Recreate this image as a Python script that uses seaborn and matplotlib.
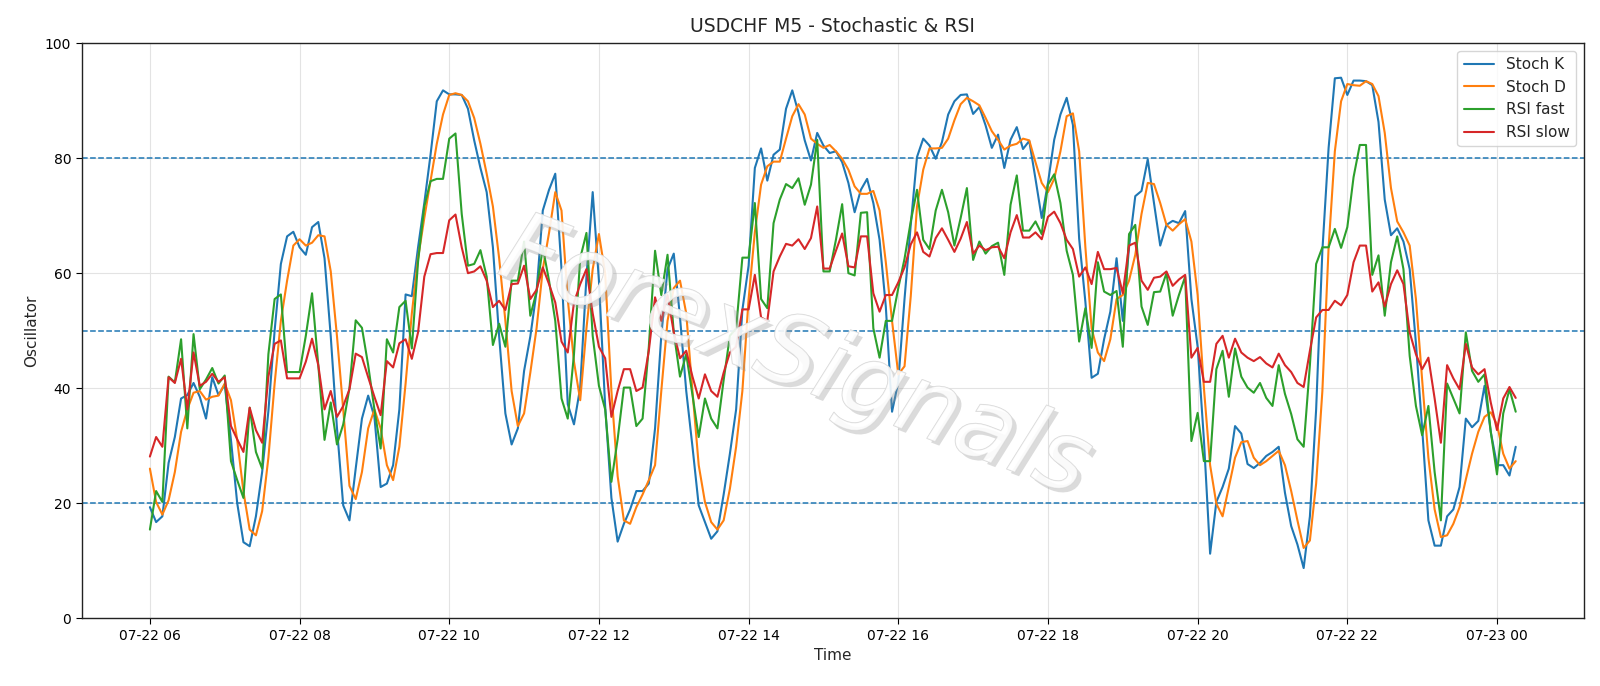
import numpy as np
import pandas as pd
import matplotlib
matplotlib.use("Agg")
import matplotlib.pyplot as plt
import matplotlib.dates as mdates
import matplotlib.patheffects as pe
import seaborn as sns

start_time = "2025-07-22 06:00"
n_bars = 220
labels = ["Stoch K", "Stoch D", "RSI fast", "RSI slow"]

stoch_k = [
    19.3, 16.7, 17.7, 27, 31.5, 38.2, 38.8, 40.9, 38.5, 34.7, 41.9, 38.8, 40.6, 31, 20, 13.2, 12.5, 17.7, 25.4, 36,
    50, 61.6, 66.4, 67.2, 64.5, 63.2, 68, 68.9, 62.6, 49, 33, 19.6, 17, 26, 34.7, 38.7, 35, 22.8, 23.4, 26.6,
    36.3, 56.3, 56, 64.5, 72.2, 80.6, 89.9, 91.8, 91.1, 91.1, 91, 88.6, 83.1, 78.3, 74.1, 64.5, 49, 35.6, 30.2, 33,
    43, 49, 56.8, 70.9, 74.5, 77.3, 60.7, 37.2, 33.7, 40.1, 59.4, 74.1, 58.7, 36.9, 20.9, 13.3, 16.4, 18.9, 22.1, 22.1,
    23.4, 33, 49.1, 60.7, 63.4, 52.3, 39.5, 29.8, 19.6, 16.7, 13.8, 15.1, 21.5, 28.6, 36.3, 53.6, 61.3, 78.3, 81.7, 76.1,
    80.6, 81.5, 88.6, 91.8, 87.9, 83.1, 79.6, 84.4, 82.2, 80.9, 81.2, 79.3, 75.7, 70.6, 74.5, 76.4, 72.2, 65.8, 54.2, 35.9,
    41.1, 55.5, 68.4, 80.2, 83.4, 82.2, 79.9, 82.8, 87.6, 89.9, 91, 91.1, 87.7, 88.9, 85.7, 81.8, 84.1, 78.3, 83.2, 85.4,
    81.6, 83, 76.4, 69.6, 75.7, 83.2, 87.6, 90.5, 85.8, 66, 55, 41.8, 42.5, 48.5, 53.3, 62.6, 51.7, 64.5, 73.4, 74.3,
    79.8, 72.2, 64.8, 68.4, 69.1, 68.7, 70.8, 55.5, 47.2, 31.1, 11.2, 20.2, 22.8, 26, 33.4, 32.1, 26.8, 26.1, 27, 28.2,
    28.9, 29.8, 21.8, 16, 12.8, 8.7, 17.7, 36.3, 63.9, 81.8, 93.9, 94, 91, 93.5, 93.5, 93.4, 92.7, 86.3, 72.8, 66.6,
    67.8, 65.5, 60.7, 47.8, 33, 17, 12.6, 12.6, 17.7, 18.9, 22.8, 34.7, 33.2, 34.3, 40.4, 32.4, 26.6, 26.6, 24.8, 29.8,
]

stoch_d = [
    26, 20.2, 18, 20.5, 25.4, 32.4, 36.3, 39.2, 39.5, 38, 38.5, 38.7, 40.8, 37.9, 31, 22, 15.4, 14.4, 18.6, 27.9,
    40.8, 51.7, 58.7, 64.8, 65.9, 64.8, 65.3, 66.6, 66.4, 60.3, 49, 36.3, 23, 20.7, 25.4, 33, 36.3, 33, 26.6, 24,
    29.8, 40.8, 53, 62.6, 69.6, 76, 82.5, 87.6, 91, 91.3, 91, 89.9, 87, 82.5, 77.3, 71.6, 62.6, 51.7, 39.5, 33.4,
    35.6, 42.7, 50.4, 60.7, 67, 74.1, 70.9, 55.5, 44.6, 37.9, 50.4, 60.7, 66.8, 60, 39.5, 24.7, 17, 16.4, 19.3, 21.5,
    24, 26.6, 39.5, 51.7, 57.4, 58.7, 53, 39.5, 26.6, 20.2, 16.7, 15.4, 17, 22.5, 29.8, 39.5, 55.5, 67.1, 75.4, 78.6,
    79.4, 79.4, 83.4, 87.3, 89.4, 87.6, 83.4, 82.5, 81.8, 82.3, 81.2, 79.9, 78, 75.1, 73.8, 73.8, 74.3, 70.9, 61.9, 51.7,
    42.4, 43.8, 56, 71.6, 78, 81.7, 81.7, 81.8, 83.4, 86.6, 89.4, 90.5, 89.9, 89.2, 87, 84.7, 83.2, 81.5, 82.2, 82.5,
    83.4, 83.1, 79.3, 75.7, 74.1, 76.4, 81.2, 87.3, 87.8, 81.2, 64.5, 50.4, 46.2, 44.7, 48.5, 55.5, 56.2, 58.7, 63.2, 70.3,
    75.7, 75.5, 72.2, 68.4, 67.4, 68.5, 69.4, 65.5, 56.2, 40.1, 26.6, 19.9, 17.7, 22.8, 27.9, 30.6, 30.8, 27.9, 26.6, 27.3,
    28.2, 29.1, 26.6, 22.1, 17, 12.2, 13.5, 23.4, 39.5, 64.5, 81.2, 89.9, 92.9, 92.7, 92.6, 93.4, 92.9, 90.8, 84.4, 74.8,
    69, 67.1, 64.8, 55.5, 41.4, 27.9, 18.9, 14.1, 14.4, 16.4, 19.3, 24.1, 28.6, 32.4, 35, 35.8, 33.7, 28.6, 26, 27.3,
]

rsi_fast = [
    15.4, 22.1, 20.2, 42, 41, 48.5, 33, 49.4, 39.8, 41.5, 43.5, 40.8, 42.2, 27.3, 24, 20.9, 36.6, 28.9, 26, 45.9,
    55.5, 56.3, 42.8, 42.8, 42.8, 49.1, 56.5, 44, 31, 37.5, 30.2, 33.7, 40, 51.8, 50.5, 44, 36.3, 29.5, 48.5, 46.2,
    54.1, 55.2, 46.9, 62, 71.6, 76, 76.4, 76.4, 83.4, 84.3, 70.3, 61.3, 61.6, 64, 59.4, 47.5, 51.2, 47.2, 58.7, 58.7,
    65.5, 52.6, 56.8, 64.5, 58.7, 51.7, 38.2, 34.7, 45.9, 62.6, 67, 49.1, 40.4, 36.3, 23.7, 31.1, 40.1, 40.1, 33.4, 34.7,
    47.2, 63.9, 56.2, 63.2, 49.7, 42, 45.9, 38.8, 31.5, 38.2, 34.7, 33, 41.4, 49.1, 50.4, 62.7, 62.7, 72.2, 55.5, 53.9,
    68.7, 72.8, 75.5, 74.8, 76.5, 71.9, 75.4, 83.2, 60.3, 60.3, 65.8, 72, 60, 59.6, 70.5, 70.6, 50.4, 45.3, 51.7, 51.7,
    57.4, 62.5, 69, 74.5, 65.8, 64.2, 70.9, 74.5, 70.6, 64.8, 69.6, 74.8, 62.3, 65.5, 63.4, 64.7, 65.3, 59.7, 71.9, 77,
    67.4, 67.4, 69, 66.8, 75.4, 77.2, 72.2, 63.9, 59.7, 48.1, 53.9, 47, 61.9, 56.8, 56.2, 56.9, 47.2, 66.8, 68.4, 54.2,
    51, 56.7, 56.8, 60, 52.6, 56.2, 59.4, 30.8, 35.7, 27.3, 27.3, 43.3, 46.5, 38.5, 46.9, 42, 40.1, 39.2, 40.9, 38.3,
    36.9, 44, 39, 35.5, 31.1, 29.8, 44, 61.6, 64.5, 64.5, 67.7, 64.4, 68, 76.7, 82.3, 82.3, 59.7, 63.1, 52.6, 61.9,
    66.4, 60.7, 45.6, 36.9, 31.8, 36.9, 25.4, 17, 40.8, 38.2, 35.6, 49.7, 43, 41.1, 42.4, 32.4, 25, 35.6, 39.8, 35.9,
]

rsi_slow = [
    28.1, 31.5, 29.8, 41.9, 40.9, 45.1, 36.3, 46.2, 40.4, 41.1, 42.5, 41.1, 41.9, 33.4, 31.1, 28.9, 36.6, 32.7, 30.5, 42,
    47.7, 48.3, 41.7, 41.7, 41.7, 44.6, 48.6, 44, 36.3, 39.5, 35, 36.9, 39.8, 46, 45.4, 41.9, 38.5, 35.3, 44.7, 43.6,
    47.8, 48.5, 45.1, 49.7, 59.4, 63.3, 63.5, 63.5, 69.2, 70.2, 64.5, 60, 60.3, 61.2, 58.7, 54.1, 55.2, 53.6, 58.1, 58.2,
    61.3, 55.5, 57.1, 61, 58.1, 54.9, 48.1, 46.2, 54.9, 58.1, 60.7, 53, 47.2, 45.2, 35, 39.5, 43.3, 43.3, 39.5, 40.1,
    46.5, 55.8, 51.7, 56.2, 49.7, 45.2, 46.5, 42, 38.2, 42.4, 39.5, 38.5, 42.7, 46.2, 47.2, 53.7, 53.7, 59.7, 52.3, 51.7,
    60.3, 62.9, 65.1, 64.8, 65.9, 64.2, 66.1, 71.6, 60.8, 60.8, 63.9, 66.9, 61.2, 61, 66.4, 66.4, 56.5, 53.3, 56.2, 56.2,
    58.4, 61, 65, 67.1, 63.7, 62.9, 66.1, 67.8, 65.8, 63.7, 66, 68.9, 63.4, 64.8, 64, 64.5, 64.6, 62.6, 67.1, 70.1,
    66.2, 66.2, 67.1, 65.9, 69.8, 70.7, 68.7, 65.8, 64.2, 59.4, 61, 58.1, 63.7, 60.7, 60.7, 60.9, 56.5, 64.8, 65.3, 58.7,
    57.1, 59.2, 59.4, 60.3, 57.8, 58.9, 59.7, 45.3, 47, 41.1, 41.1, 47.7, 49.1, 45.3, 48.6, 46.2, 45.3, 44.7, 45.4, 44.3,
    43.6, 46, 44, 42.8, 40.9, 40.2, 46.5, 52.3, 53.6, 53.6, 55.2, 54.4, 56.2, 61.9, 64.8, 64.8, 56.8, 58.4, 54.2, 58.1,
    60.5, 58.1, 49.7, 45.9, 43.3, 45.3, 38.2, 30.5, 44, 41.7, 39.8, 47.7, 43.6, 42.4, 43.3, 37.5, 32.7, 38.2, 40.2, 38.3,
]

levels = [20, 50, 80]
y_ticks = [0, 20, 40, 60, 80, 100]

times = pd.date_range(start_time, periods=n_bars, freq="5min")
frames = []
for lab, vals in zip(labels, [stoch_k, stoch_d, rsi_fast, rsi_slow]):
    frames.append(pd.DataFrame({"Time": times, "Oscillator": vals, "series": lab}))
df = pd.concat(frames, ignore_index=True)

sns.set_style("white")
plt.rcParams["font.family"] = ["DejaVu Sans"]

fig = plt.figure(figsize=(16, 6.86), dpi=100)
ax = fig.add_axes([0.051, 0.099, 0.939, 0.838])

palette = sns.color_palette("tab10", 4)
sns.lineplot(data=df, x="Time", y="Oscillator", hue="series", hue_order=labels,
             palette=palette, linewidth=1.5, ax=ax, zorder=3)

for lv in levels:
    ax.axhline(lv, color="#1f77b4", linestyle="--", linewidth=1.1, zorder=2)

ax.set_ylim(0, 100)
ax.set_yticks(y_ticks)
ax.xaxis.set_major_locator(mdates.HourLocator(byhour=range(0, 24, 2)))
ax.xaxis.set_major_formatter(mdates.DateFormatter("%m-%d %H"))
ax.margins(x=0.05)
ax.grid(True, color="#e3e3e3", linewidth=0.8, zorder=0)
ax.tick_params(axis="both", which="both", length=4, width=0.8, labelsize=10,
               bottom=True, left=True, colors="black")
for s in ax.spines.values():
    s.set_color("#222222")
    s.set_linewidth(1.0)

ax.set_title("USDCHF M5 - Stochastic & RSI", fontsize=13.5, pad=8)
ax.set_xlabel("Time", fontsize=11)
ax.set_ylabel("Oscillator", fontsize=11)

leg = ax.legend(loc="upper right", fontsize=11, frameon=True)
leg.get_frame().set_edgecolor("#cccccc")

wm = ax.text(0.475, 0.45, "ForexSignals", transform=ax.transAxes, fontsize=70,
             style="italic", fontweight="light", rotation=-21, ha="center", va="center",
             color=(1, 1, 1, 0.5), zorder=4)
wm.set_path_effects([
    pe.withSimplePatchShadow(offset=(3, -3), shadow_rgbFace="#9a9a9a", alpha=0.35),
    pe.Stroke(linewidth=0.8, foreground="#d6d6d6"),
    pe.Normal(),
])

fig.savefig("out.png", dpi=100)
